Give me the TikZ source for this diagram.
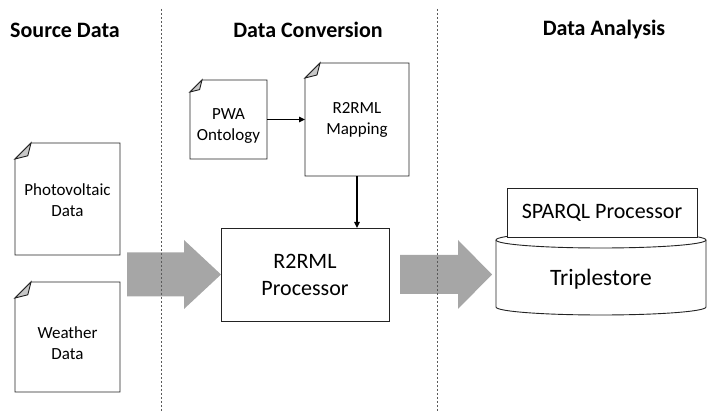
\documentclass[tikz,border=0pt]{standalone}
\usepackage{fontspec}
\setmainfont{Carlito}
\usetikzlibrary{arrows.meta,calc,backgrounds}
\definecolor{bigarrowgray}{RGB}{166,166,166}
\definecolor{foldgray}{RGB}{200,200,200}
\definecolor{edge}{RGB}{35,35,35}
\definecolor{sepline}{RGB}{90,90,90}

% outline of a document symbol with a dog-eared top-left corner
\newcommand\docoutline[2]{%
  \draw[boxline] ($(#1.north west)+(#2,0)$) -- (#1.north east) -- (#1.south east)
    -- (#1.south west) -- ($(#1.north west)+(0,-#2)$) -- cycle;
  \filldraw[boxline, fill=foldgray] ($(#1.north west)+(0,-#2)$) -- ($(#1.north west)+(#2,0)$)
    -- ($(#1.north west)+(0.8*#2,-0.8*#2)$) -- cycle;
}
% centred lines of text, drawn lower than the middle of their box
\newcommand\lowtext[2]{\raisebox{-#1}[\height][\depth]{\begin{tabular}{@{}c@{}}#2\end{tabular}}}

\begin{document}
\begin{tikzpicture}[x=1pt,y=1pt,
  header/.style={font=\fontsize{22}{26}\selectfont\bfseries},
  boxline/.style={draw=edge, line width=0.9pt},
  doctext/.style={inner sep=0pt, outer sep=0pt, align=center, font=\fontsize{17}{21}\selectfont},
  boxtext/.style={inner sep=0pt, outer sep=0pt, align=center, font=\fontsize{22}{27}\selectfont},
  separator/.style={draw=sepline, line width=0.8pt, dash pattern=on 2.5pt off 1.5pt},
  link/.style={draw=black, line width=1.4pt, -{Triangle[length=6pt,width=5.5pt]}},
  fatarrow/.style n args={3}{fill=bigarrowgray, to path={
    let \p1=(\tikztostart), \p2=(\tikztotarget) in
    (\x1,{\y2+#1}) -- ({\x2-#3},{\y2+#1}) -- ({\x2-#3},{\y2+#2}) -- (\x2,\y2)
    -- ({\x2-#3},{\y2-#2}) -- ({\x2-#3},{\y2-#1}) -- (\x1,{\y2-#1}) -- cycle}},
]
\useasboundingbox (0,0) rectangle (716,417);

% column headers
\node[header] (hsrc) at (65,387) {Source Data};
\node[header] (hconv) at (308,387) {Data Conversion};
\node[header] (hana) at (604,387) {Data Analysis};

% source documents
\node[doctext, minimum width=105pt, minimum height=112pt] (pv) at (67.5,218) {\lowtext{3pt}{Photovoltaic\\Data}};
\node[doctext, minimum width=105pt, minimum height=110pt] (wx) at (67.5,80) {\lowtext{8pt}{Weather\\Data}};
\docoutline{pv}{16}
\docoutline{wx}{16}

% conversion documents
\node[doctext, minimum width=77pt, minimum height=79pt] (pwa) at (228.5,297.5) {\lowtext{6pt}{PWA\\Ontology}};
\node[doctext, minimum width=104pt, minimum height=113pt] (map) at (357,297.5) {R2RML\\Mapping};
\docoutline{pwa}{12}
\docoutline{map}{15}

% processor
\node[boxtext, boxline, minimum width=168pt, minimum height=93pt] (proc) at (305,142.5) {R2RML\\Processor};

% triplestore cylinder with the SPARQL processor on top
\node[boxtext, font=\fontsize{23.5}{28}\selectfont, minimum width=210pt, minimum height=67pt] (store) at (601,143.5) {\lowtext{6pt}{Triplestore}};
\begin{scope}[on background layer]
  \draw[boxline, fill=white] (store.north west) -- (store.south west)
    arc[start angle=180, end angle=360, x radius=105, y radius=8]
    -- (store.north east)
    arc[start angle=0, end angle=180, x radius=105, y radius=8] -- cycle;
  \draw[boxline] (store.north west) arc[start angle=180, end angle=360, x radius=105, y radius=8];
\end{scope}
\node[boxtext, boxline, fill=white, minimum width=190pt, minimum height=49pt] (sparql) at (602,204.5) {SPARQL Processor};

% connectors
\draw[link] (pwa.east) -- (map.west);
\draw[link] (map.south) -- (map.south |- proc.north);

% broad flow arrows between the stages
\coordinate (a1) at (127,142.5);
\coordinate (a2) at (400,142.5);
\coordinate (storein) at ($(store.west)+(-4,-1)$);
\path[fatarrow={22}{34.5}{37}] (a1) to (proc.west);
\path[fatarrow={19.5}{34.5}{34}] (a2) to (storein);

% stage separators
\coordinate (s1t) at (161,408);
\coordinate (s1b) at (161,5);
\coordinate (s2t) at (437,408);
\coordinate (s2b) at (437,5);
\draw[separator] (s1t) -- (s1b);
\draw[separator] (s2t) -- (s2b);
\end{tikzpicture}
\end{document}
